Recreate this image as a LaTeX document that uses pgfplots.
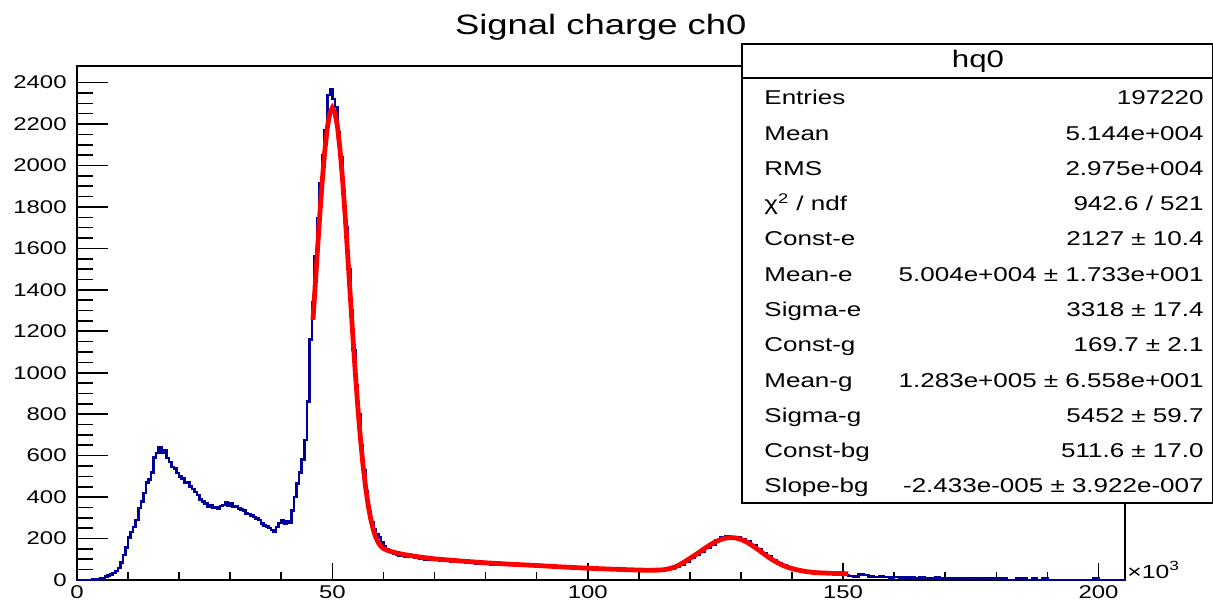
\documentclass[border=0pt]{standalone}
\usepackage{fontspec}
\setmainfont{Liberation Sans}[FakeStretch=1.3]
\usepackage{pgfplots}
\pgfplotsset{compat=1.18}
\definecolor{histblue}{RGB}{0,0,153}
\definecolor{fitred}{RGB}{255,0,0}

% histogram of the signal charge, bin left edge (x 1000) and content
\pgfplotstableread{
x y
0 0
0.5 0
1 0
1.5 0
2 1
2.5 1
3 2
3.5 3
4 4
4.5 6
5 10
5.5 16
6 22
6.5 28
7 34
7.5 44
8 58
8.5 84
9 120
9.5 158
10 204
10.5 232
11 256
11.5 290
12 348
12.5 378
13 420
13.5 470
14 486
14.5 520
15 590
15.5 612
16 640
16.5 616
17 626
17.5 588
18 570
18.5 546
19 538
19.5 516
20 498
20.5 490
21 468
21.5 470
22 452
22.5 440
23 424
23.5 410
24 388
24.5 380
25 368
25.5 356
26 360
26.5 348
27 352
27.5 346
28 358
28.5 362
29 376
29.5 360
30 368
30.5 352
31 358
31.5 346
32 340
32.5 336
33 322
33.5 318
34 310
34.5 304
35 296
35.5 290
36 272
36.5 264
37 258
37.5 250
38 242
38.5 234
39 256
39.5 276
40 288
40.5 270
41 282
41.5 276
42 336
42.5 400
43 466
43.5 520
44 580
44.5 676
45 860
45.5 1160
46 1340
46.5 1560
47 1744
47.5 1913
48 2050
48.5 2170
49 2340
49.5 2366
50 2320
50.5 2282
51 2160
51.5 2040
52 1880
52.5 1700
53 1500
53.5 1300
54 1110
54.5 940
55 800
55.5 650
56 530
56.5 430
57 330
57.5 280
58 246
58.5 222
59 204
59.5 182
60 164
60.5 150
61 138
61.5 130
62 126
62.5 124
63 118
63.5 116
64 112
64.5 114
65 112
66 106
67 104
68 100
69 102
70 96
71 92
72 94
73 88
74 90
75 86
76 84
77 86
78 80
79 82
80 78
81 76
82 78
83 74
84 72
85 74
86 70
87 72
88 68
89 70
90 66
91 68
92 64
93 62
94 66
95 60
96 62
97 58
98 60
99 56
100 60
101 56
102 58
103 54
104 52
105 54
106 50
107 52
108 48
109 50
110 46
111 48
112 44
113 46
114 48
115 52
116 56
117 64
118 76
119 90
120 106
121 120
122 138
123 156
124 172
125 190
126 204
127 210
128 208
129 206
130 198
131 186
132 168
133 150
134 130
135 112
136 96
137 82
138 70
139 62
140 54
141 48
142 44
143 40
144 36
145 34
146 32
147 30
148 28
149 26
150 24
151 20
152 18
153 26
154 24
155 18
156 14
157 16
158 14
159 12
160 14
161 12
162 12
163 12
164 10
165 12
166 10
167 10
168 12
169 10
170 10
171 10
172 8
173 10
174 8
175 8
176 10
177 8
178 8
179 8
180 6
181 6
182 0
183 0
184 6
185 6
186 0
187 6
188 0
189 6
190 0
199 6
200 0
205.2 0
}\histdata

% fit curve (two gaussians + exponential background)
\pgfplotstableread{
x y
46.2 1255
46.5 1369
47 1561
47.5 1748
48 1920
48.5 2067
49 2180
49.5 2252
50 2278
50.5 2256
51 2188
51.5 2077
52 1931
52.5 1758
53 1570
53.5 1374
54 1181
54.5 998
55 830
55.5 682
56 555
56.5 449
57 363
57.5 296
58 244
58.5 206
59 180
59.5 163
60 152
61 141
62 134
63 128
64 123
65 119
66 115
68 108
70 102
72 98
75 92
80 83
85 76
90 70
95 63
100 57
105 52
110 48
112 47
114 48
115 50
116 55
117 62
118 74
119 88
120 104
121 120
122 137
123 154
124 170
125 184
126 195
127 202
128 205
129 203
130 196
131 185
132 170
133 153
134 135
135 117
136 100
137 86
138 73
139 63
140 55
141 49
142 44
143 40
144 37
145 35
146 34
147 33
148 32
149 31
150 31
151 30
}\fitdata

\begin{document}
\begin{tikzpicture}[x=1pt,y=1pt]
\useasboundingbox (0,0) rectangle (606.5,300.5);
\begin{axis}[
  at={(38.5pt,10.5pt)}, anchor=south west,
  scale only axis, width=524pt, height=257pt,
  xmin=0, xmax=205.2, ymin=0, ymax=2480,
  xtick={0,50,100,150,200}, ytick={0,200,...,2400},
  minor x tick num=4, minor y tick num=3,
  tick align=inside, xtick pos=bottom, ytick pos=left,
  xtick style={/pgfplots/major tick length=8.3pt,/pgfplots/minor tick length=4.2pt,line width=0.8pt,black},
  ytick style={/pgfplots/major tick length=15.5pt,/pgfplots/minor tick length=8pt,line width=0.8pt,black},
  axis line style={line width=0.9pt},
  scaled ticks=false,
  /pgf/number format/1000 sep={},
  /pgf/number format/assume math mode=true,
  ticklabel style={font=\fontsize{9.2}{9.2}\selectfont},
  yticklabel style={anchor=east, inner sep=0pt, xshift=-5pt},
  xticklabel style={anchor=north, inner sep=0pt, yshift=-2.5pt},
]
\addplot[const plot, histblue, line width=1.3pt] table {\histdata};
\addplot[fitred, line width=2.4pt] table {\fitdata};
\end{axis}

\node[anchor=base, font=\fontsize{14}{14}\selectfont] at (300.4,283) {Signal charge ch0};
\node[anchor=base west, inner sep=0pt, font=\fontsize{9.5}{9.5}\selectfont] at (563.5,11.5) {×10\textsuperscript{3}};

% statistics box
\draw[line width=0.75pt, fill=white] (371,49) rectangle (606.5,278.5);
\draw[line width=0.75pt] (371,261.5) -- (606.5,261.5);
\node[anchor=base, inner sep=0pt, font=\fontsize{12}{12}\selectfont] at (489,266.9) {hq0};
\begin{scope}[every node/.style={inner sep=0pt, font=\fontsize{10}{10}\selectfont}]
\node[anchor=base west] at (382,248) {Entries};     \node[anchor=base east] at (602,248) {197220};
\node[anchor=base west] at (382,230.25) {Mean};     \node[anchor=base east] at (602,230.25) {5.144e+004};
\node[anchor=base west] at (382,212.75) {RMS};      \node[anchor=base east] at (602,212.75) {2.975e+004};
\node[anchor=base west] at (382,195.25) {χ\textsuperscript{2} / ndf}; \node[anchor=base east] at (602,195.25) {942.6 / 521};
\node[anchor=base west] at (382,177.75) {Const-e};  \node[anchor=base east] at (602,177.75) {2127 ± 10.4};
\node[anchor=base west] at (382,160) {Mean-e};      \node[anchor=base east] at (602,160) {5.004e+004 ± 1.733e+001};
\node[anchor=base west] at (382,142.5) {Sigma-e};   \node[anchor=base east] at (602,142.5) {3318 ± 17.4};
\node[anchor=base west] at (382,124.75) {Const-g};  \node[anchor=base east] at (602,124.75) {169.7 ± 2.1};
\node[anchor=base west] at (382,107) {Mean-g};      \node[anchor=base east] at (602,107) {1.283e+005 ± 6.558e+001};
\node[anchor=base west] at (382,89.5) {Sigma-g};    \node[anchor=base east] at (602,89.5) {5452 ± 59.7};
\node[anchor=base west] at (382,72) {Const-bg};     \node[anchor=base east] at (602,72) {511.6 ± 17.0};
\node[anchor=base west] at (382,54.5) {Slope-bg};   \node[anchor=base east] at (602,54.5) {-2.433e-005 ± 3.922e-007};
\end{scope}
\end{tikzpicture}
\end{document}
